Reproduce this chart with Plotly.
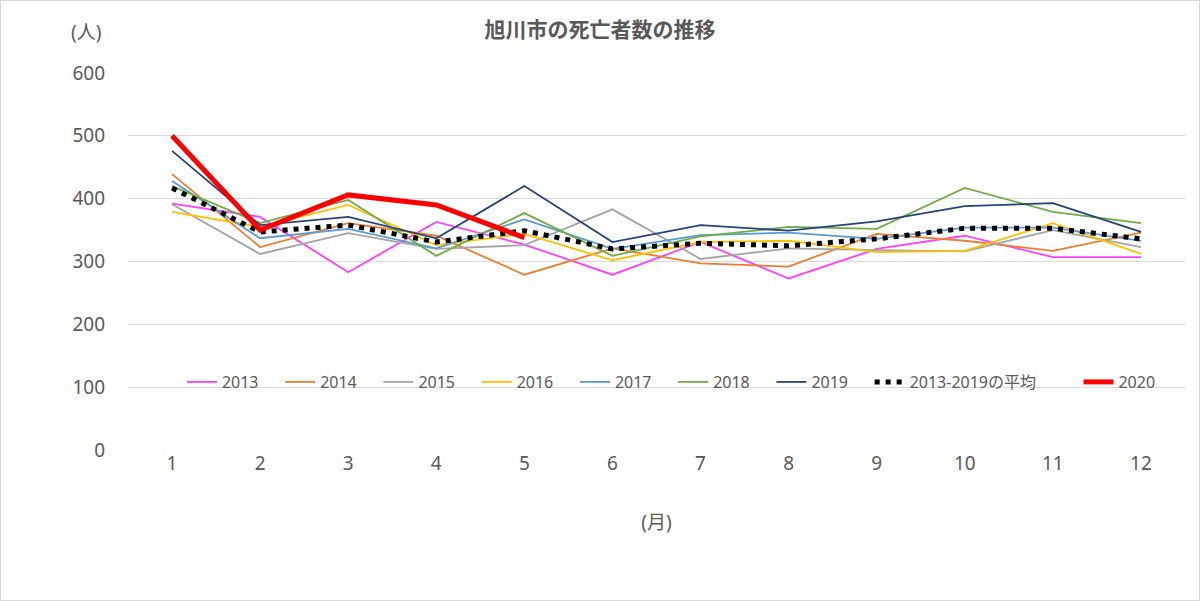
import plotly.graph_objects as go

months = [1, 2, 3, 4, 5, 6, 7, 8, 9, 10, 11, 12]
tick_labels = ["1", "2", "3", "4", "5", "6", "7", "8", "9", "10", "11", "12"]

y2013 = [392, 371, 283, 363, 327, 279, 331, 273, 320, 341, 307, 307]
y2014 = [439, 323, 361, 341, 279, 321, 297, 292, 344, 333, 317, 346]
y2015 = [391, 312, 345, 320, 326, 383, 304, 321, 318, 316, 350, 323]
y2016 = [379, 355, 390, 326, 344, 302, 331, 333, 315, 317, 361, 312]
y2017 = [428, 337, 352, 321, 367, 320, 342, 346, 336, 354, 354, 333]
y2018 = [420, 361, 398, 309, 377, 309, 340, 355, 352, 417, 379, 361]
y2019 = [476, 358, 371, 337, 420, 331, 358, 349, 364, 388, 393, 347]
y_avg = [417, 347, 358, 331, 349, 320, 329, 325, 336, 353, 353, 336]
y2020 = [500, 350, 406, 390, 338]

series = [
    ("2013", y2013, "#FF40FF"),
    ("2014", y2014, "#ED7D31"),
    ("2015", y2015, "#A5A5A5"),
    ("2016", y2016, "#FFC000"),
    ("2017", y2017, "#5B9BD5"),
    ("2018", y2018, "#70AD47"),
    ("2019", y2019, "#264478"),
]

FONT = "Noto Sans, Noto Sans CJK JP, sans-serif"
GRAY = "#595959"
PAD = "\u00a0" * 4

fig = go.Figure()
for name, ys, col in series:
    fig.add_trace(go.Scatter(x=months[:len(ys)], y=ys, mode="lines", name=name + PAD,
                             line=dict(color=col, width=1.8)))
fig.add_trace(go.Scatter(x=months, y=y_avg, mode="lines", name="2013-2019の平均" + "\u00a0" * 9,
                         line=dict(color="black", width=5, dash="5px,6px")))
fig.add_trace(go.Scatter(x=months[:len(y2020)], y=y2020, mode="lines", name="2020",
                         line=dict(color="#FF0000", width=5)))

fig.update_layout(
    width=1200, height=601,
    paper_bgcolor="white", plot_bgcolor="white",
    margin=dict(l=128, r=15, t=73, b=151),
    font=dict(family=FONT, color=GRAY, size=19),
    title=dict(text="<b>旭川市の死亡者数の推移</b>", x=0.5, xanchor="center",
               y=1 - 30 / 601, yanchor="middle",
               font=dict(size=21, color=GRAY, family="Noto Sans CJK JP")),
    showlegend=True,
    legend=dict(orientation="h", x=0.051, y=(450 - 382) / 377, xanchor="left", yanchor="middle",
                bgcolor="rgba(0,0,0,0)", font=dict(size=16, color=GRAY),
                itemwidth=30, traceorder="normal"),
    xaxis=dict(range=[0.5, 12.5], tickmode="array", tickvals=months, ticktext=tick_labels,
               showgrid=False, zeroline=False, showline=False, ticks="",
               tickfont=dict(size=19, color=GRAY),
               title=dict(text="(月)", font=dict(size=19, color=GRAY), standoff=40)),
    yaxis=dict(range=[0, 600], tickvals=[0, 100, 200, 300, 400, 500, 600],
               showgrid=True, gridcolor="#D9D9D9", gridwidth=1, zeroline=False,
               showline=False, ticks="", tickfont=dict(size=19, color=GRAY),
               ticklabelstandoff=22),
)

fig.add_annotation(text="(人)", xref="paper", yref="paper", x=(86 - 128) / 1057,
                   y=1 + (73 - 32) / 377, showarrow=False, xanchor="center", yanchor="middle",
                   font=dict(size=19, color=GRAY))
fig.add_shape(type="rect", xref="paper", yref="paper",
              x0=-127.5 / 1057, x1=1 + 14.5 / 1057, y0=-150.5 / 377, y1=1 + 72.5 / 377,
              line=dict(color="#D9D9D9", width=1), layer="below")

fig.write_html("out.html", config={"displayModeBar": False},
               post_script="document.body.style.margin='0';")
